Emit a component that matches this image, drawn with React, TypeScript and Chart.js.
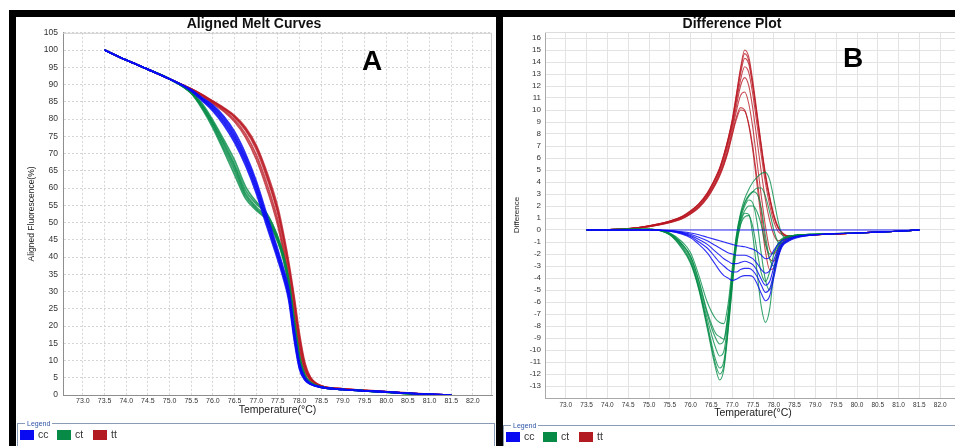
import React, { useEffect, useRef } from "react";
import { Chart, registerables } from "chart.js";

Chart.register(...registerables);

const FONT = "'Liberation Sans', Arial, Helvetica, sans-serif";

// ---------- Panel A : aligned melt curves ----------
const tempsA = [73.5, 74.0, 74.5, 75.0, 75.5, 75.75, 76.0, 76.25, 76.5, 76.75, 77.0, 77.25, 77.5, 77.625, 77.75, 77.875, 78.0, 78.125, 78.25, 78.5, 79.0, 79.5, 80.0, 80.5, 81.0, 81.5];

const meltCC = [
  [100, 97.1, 94.4, 91.6, 88.3, 85.8, 83.2, 79.6, 74.8, 68.3, 60.2, 50.3, 40.5, 35.3, 29.0, 17.5, 8.2, 4.6, 3.2, 2.2, 1.6, 1.2, 0.9, 0.5, 0.2, 0],
  [100, 97.1, 94.4, 91.6, 88.1, 85.3, 82.3, 78.3, 73.2, 66.6, 58.5, 48.6, 39.0, 33.8, 27.4, 16.0, 7.4, 4.3, 3.1, 2.2, 1.6, 1.2, 0.9, 0.5, 0.2, 0],
  [100, 97.1, 94.4, 91.6, 88.5, 86.2, 84.0, 80.8, 76.3, 70.0, 62.0, 52.0, 42.0, 36.8, 30.6, 19.2, 9.2, 5.0, 3.3, 2.3, 1.6, 1.2, 0.9, 0.5, 0.2, 0],
  [100, 97.1, 94.4, 91.6, 88.2, 85.6, 82.8, 79.0, 74.0, 67.5, 59.4, 49.5, 39.8, 34.6, 28.3, 16.8, 7.8, 4.4, 3.2, 2.2, 1.6, 1.2, 0.9, 0.5, 0.2, 0],
  [100, 97.1, 94.4, 91.6, 88.4, 86.0, 83.6, 80.2, 75.5, 69.1, 61.1, 51.1, 41.2, 36.0, 29.8, 18.3, 8.7, 4.8, 3.3, 2.3, 1.6, 1.2, 0.9, 0.5, 0.2, 0],
];

const meltCT = [
  [100, 97.1, 94.4, 91.6, 87.6, 83.8, 78.6, 72.5, 66.0, 58.5, 54.5, 51.5, 45.0, 40.0, 32.5, 21.0, 10.5, 5.5, 3.6, 2.3, 1.6, 1.2, 0.8, 0.4, 0.1, 0],
  [100, 97.1, 94.4, 91.6, 87.4, 83.0, 77.4, 70.8, 63.8, 57.0, 53.5, 50.6, 44.2, 39.2, 31.5, 20.0, 10.0, 5.3, 3.5, 2.3, 1.6, 1.2, 0.8, 0.4, 0.1, 0],
  [100, 97.1, 94.4, 91.6, 87.9, 84.5, 79.6, 74.0, 68.0, 60.5, 56.0, 52.5, 45.8, 40.8, 33.5, 22.0, 11.2, 5.8, 3.7, 2.4, 1.6, 1.2, 0.8, 0.4, 0.1, 0],
  [100, 97.1, 94.4, 91.6, 87.8, 84.0, 79.0, 73.2, 66.8, 59.4, 55.4, 52.3, 45.5, 40.5, 33.0, 21.5, 10.8, 5.6, 3.6, 2.3, 1.6, 1.2, 0.8, 0.4, 0.1, 0],
  [100, 97.1, 94.4, 91.6, 87.5, 83.3, 78.0, 71.6, 65.0, 57.8, 54.0, 51.0, 44.6, 39.6, 32.0, 20.5, 10.2, 5.4, 3.5, 2.3, 1.6, 1.2, 0.8, 0.4, 0.1, 0],
];

const meltTT = [
  [100, 97.1, 94.4, 91.6, 88.7, 87.0, 85.0, 83.0, 80.5, 76.8, 71.2, 62.8, 52.5, 45.0, 36.5, 26.5, 15.5, 8.0, 4.8, 2.6, 1.8, 1.3, 0.9, 0.5, 0.2, 0],
  [100, 97.1, 94.4, 91.6, 88.6, 86.8, 84.7, 82.6, 79.8, 75.7, 69.6, 61.0, 50.5, 43.0, 34.5, 24.5, 14.0, 7.2, 4.5, 2.5, 1.7, 1.3, 0.9, 0.5, 0.2, 0],
  [100, 97.1, 94.4, 91.6, 88.8, 87.1, 85.2, 83.3, 81.0, 77.6, 72.4, 64.4, 54.3, 47.0, 38.5, 28.5, 17.5, 9.2, 5.2, 2.7, 1.8, 1.4, 1.0, 0.6, 0.2, 0],
  [100, 97.1, 94.4, 91.6, 88.5, 86.6, 84.4, 82.2, 79.2, 74.8, 68.4, 59.6, 49.0, 41.5, 33.0, 23.0, 12.8, 6.8, 4.3, 2.5, 1.7, 1.3, 0.9, 0.5, 0.2, 0],
  [100, 97.1, 94.4, 91.6, 88.7, 87.0, 85.1, 83.1, 80.7, 77.2, 71.9, 63.6, 53.2, 46.0, 37.5, 27.5, 16.5, 8.6, 5.0, 2.6, 1.8, 1.3, 0.9, 0.5, 0.2, 0],
];

// ---------- Panel B : difference plot ----------
const tempsB = [73.5, 74.5, 75.0, 75.5, 75.8, 76.0, 76.2, 76.4, 76.6, 76.7, 76.8, 76.9, 77.0, 77.1, 77.2, 77.3, 77.4, 77.5, 77.6, 77.7, 77.8, 77.9, 78.0, 78.1, 78.2, 78.35, 78.5, 79.0, 80.0, 81.0, 81.5];

const diffCC = [
  [0, 0, 0, 0, 0, 0, 0, 0, 0, 0, 0, 0, 0, 0, 0, 0, 0, 0, 0, 0, 0, 0, 0, 0, 0, 0, 0, 0, 0, 0, 0],
  [0, 0, 0, -0.05, -0.15, -0.25, -0.4, -0.6, -0.8, -0.9, -1.0, -1.1, -1.2, -1.3, -1.35, -1.4, -1.5, -1.6, -1.8, -2.1, -2.4, -2.3, -1.7, -1.2, -0.9, -0.7, -0.55, -0.4, -0.25, -0.1, 0],
  [0, 0, 0, -0.05, -0.2, -0.35, -0.6, -0.9, -1.3, -1.5, -1.7, -1.9, -2.0, -2.1, -2.1, -2.1, -2.2, -2.4, -2.8, -3.3, -3.6, -3.4, -2.5, -1.6, -1.1, -0.8, -0.6, -0.4, -0.25, -0.1, 0],
  [0, 0, 0, -0.05, -0.25, -0.45, -0.8, -1.2, -1.8, -2.1, -2.4, -2.6, -2.8, -2.8, -2.7, -2.6, -2.7, -2.9, -3.4, -4.1, -4.6, -4.3, -3.1, -1.9, -1.2, -0.85, -0.6, -0.4, -0.25, -0.1, 0],
  [0, 0, 0, -0.1, -0.3, -0.55, -1.0, -1.5, -2.3, -2.7, -3.0, -3.3, -3.5, -3.5, -3.3, -3.2, -3.2, -3.4, -3.9, -4.6, -5.2, -4.9, -3.6, -2.2, -1.3, -0.9, -0.65, -0.4, -0.25, -0.1, 0],
  [0, 0, 0, -0.1, -0.35, -0.65, -1.2, -1.9, -2.9, -3.4, -3.8, -4.0, -4.2, -4.1, -3.9, -3.8, -3.8, -3.9, -4.5, -5.3, -5.9, -5.5, -4.0, -2.4, -1.4, -0.95, -0.7, -0.4, -0.25, -0.1, 0],
];

const diffCT = [
  [0, 0.05, 0.05, -0.4, -1.6, -2.8, -5.0, -8.2, -11.5, -12.5, -11.6, -8.5, -4.8, -1.4, 0.5, 1.4, 1.3, -0.6, -3.6, -6.4, -7.7, -6.6, -3.6, -1.5, -0.8, -0.5, -0.45, -0.35, -0.25, -0.1, 0],
  [0, 0.05, 0.05, -0.35, -1.4, -2.6, -4.8, -7.8, -10.8, -11.5, -10.9, -8.0, -4.3, -1.0, 0.9, 2.0, 2.5, 2.2, 0.6, -2.0, -4.2, -5.0, -3.8, -1.8, -0.9, -0.55, -0.45, -0.35, -0.25, -0.1, 0],
  [0, 0.05, 0.05, -0.35, -1.3, -2.4, -4.6, -7.4, -9.8, -10.5, -10.1, -7.5, -4.0, -0.8, 1.2, 2.3, 2.9, 3.2, 3.0, 1.8, -0.5, -2.4, -3.0, -2.2, -1.1, -0.6, -0.45, -0.35, -0.25, -0.1, 0],
  [0, 0.05, 0.05, -0.3, -1.2, -2.2, -4.3, -7.0, -9.0, -9.5, -9.2, -6.9, -3.6, -0.5, 1.4, 2.6, 3.4, 4.0, 4.4, 4.7, 4.8, 4.2, 2.6, 0.8, -0.4, -0.7, -0.5, -0.35, -0.25, -0.1, 0],
  [0, 0.05, 0.05, -0.3, -1.2, -2.2, -4.2, -6.8, -8.6, -8.9, -9.1, -7.2, -3.8, -0.9, 0.8, 1.6, 2.0, 2.0, 1.5, 0.4, -1.2, -2.0, -1.9, -1.3, -0.8, -0.55, -0.45, -0.35, -0.25, -0.1, 0],
  [0, 0.05, 0.05, -0.25, -1.0, -1.9, -3.8, -6.0, -7.4, -7.7, -7.8, -6.2, -3.2, -0.5, 1.2, 2.2, 2.8, 3.2, 3.5, 3.5, 2.8, 1.5, 0.0, -1.0, -1.2, -0.8, -0.5, -0.35, -0.25, -0.1, 0],
  [0, 0.05, 0.05, -0.4, -1.5, -2.7, -4.9, -8.0, -11.2, -12.0, -11.3, -8.3, -4.6, -1.3, 0.4, 1.1, 1.2, 0.2, -1.8, -3.6, -4.3, -3.5, -2.0, -1.1, -0.7, -0.5, -0.45, -0.35, -0.25, -0.1, 0],
];

const diffTT = [
  [0, 0.12, 0.35, 0.75, 1.15, 1.6, 2.2, 3.1, 4.4, 5.2, 6.3, 7.6, 9.2, 11.3, 13.5, 15.0, 14.4, 12.3, 9.7, 7.1, 4.7, 2.8, 1.3, 0.3, -0.2, -0.5, -0.5, -0.4, -0.25, -0.1, 0],
  [0, 0.12, 0.35, 0.74, 1.13, 1.58, 2.18, 3.05, 4.35, 5.15, 6.25, 7.55, 9.1, 11.2, 13.3, 14.7, 14.1, 12.0, 9.5, 6.9, 4.5, 2.7, 1.2, 0.2, -0.25, -0.5, -0.5, -0.4, -0.25, -0.1, 0],
  [0, 0.12, 0.35, 0.72, 1.1, 1.55, 2.15, 3.0, 4.3, 5.1, 6.2, 7.5, 9.0, 11.0, 13.0, 14.3, 13.8, 11.8, 9.3, 6.8, 4.4, 2.6, 1.1, 0.2, -0.3, -0.5, -0.5, -0.4, -0.25, -0.1, 0],
  [0, 0.1, 0.32, 0.7, 1.08, 1.5, 2.1, 2.95, 4.2, 5.0, 6.0, 7.3, 8.8, 10.7, 12.5, 13.6, 13.1, 11.2, 8.7, 6.2, 3.9, 2.1, 0.7, -0.1, -0.4, -0.6, -0.5, -0.4, -0.25, -0.1, 0],
  [0, 0.1, 0.3, 0.68, 1.05, 1.45, 2.0, 2.85, 4.05, 4.85, 5.8, 7.1, 8.6, 10.3, 12.0, 12.7, 12.0, 10.0, 7.4, 4.8, 2.5, 0.8, -0.4, -0.9, -0.8, -0.6, -0.5, -0.4, -0.25, -0.1, 0],
  [0, 0.1, 0.3, 0.65, 1.0, 1.4, 1.95, 2.8, 3.95, 4.7, 5.6, 6.8, 8.3, 9.9, 11.2, 11.5, 10.5, 8.4, 5.6, 2.8, 0.3, -1.6, -2.0, -1.5, -0.9, -0.6, -0.5, -0.4, -0.25, -0.1, 0],
  [0, 0.1, 0.28, 0.62, 0.95, 1.35, 1.9, 2.7, 3.85, 4.6, 5.5, 6.6, 8.0, 9.4, 10.2, 10.0, 8.7, 6.5, 3.7, 0.8, -1.8, -3.3, -3.2, -2.2, -1.2, -0.7, -0.5, -0.4, -0.25, -0.1, 0],
  [0, 0.1, 0.28, 0.6, 0.93, 1.32, 1.85, 2.65, 3.8, 4.5, 5.4, 6.5, 7.9, 9.2, 10.0, 9.9, 8.8, 6.8, 4.2, 1.5, -1.0, -2.4, -2.6, -1.9, -1.1, -0.7, -0.5, -0.4, -0.25, -0.1, 0],
];

// ---------- ticks & legend ----------
const xTickValues = [73.0, 73.5, 74.0, 74.5, 75.0, 75.5, 76.0, 76.5, 77.0, 77.5, 78.0, 78.5, 79.0, 79.5, 80.0, 80.5, 81.0, 81.5, 82.0];
const yTicksA = [0, 5, 10, 15, 20, 25, 30, 35, 40, 45, 50, 55, 60, 65, 70, 75, 80, 85, 90, 95, 100, 105];
const yTicksB = [-13, -12, -11, -10, -9, -8, -7, -6, -5, -4, -3, -2, -1, 0, 1, 2, 3, 4, 5, 6, 7, 8, 9, 10, 11, 12, 13, 14, 15, 16];
const groupNames = ["cc", "ct", "tt"];

const LINE_COLORS: Record<string, string> = {
  cc: "rgba(10,10,245,0.85)",
  ct: "rgba(0,138,68,0.78)",
  tt: "rgba(186,24,34,0.78)",
};
const SWATCH_COLORS: Record<string, string> = {
  cc: "#0a0af2",
  ct: "#078a45",
  tt: "#b31b22",
};

function buildDatasets(temps: number[], groups: [string, number[][]][], width: number) {
  const out: any[] = [];
  for (const [name, reps] of groups) {
    for (const rep of reps) {
      out.push({
        label: name,
        data: temps.map((t, i) => ({ x: t, y: rep[i] })),
        borderColor: LINE_COLORS[name],
        borderWidth: width,
        pointRadius: 0,
        fill: false,
        cubicInterpolationMode: "monotone",
      });
    }
  }
  return out;
}

const framePlugin = {
  id: "frame",
  beforeDatasetsDraw(chart: any, _args: any, opts: any) {
    const { ctx, chartArea } = chart;
    const { left, top, right, bottom } = chartArea;
    ctx.save();
    ctx.strokeStyle = opts.color || "#ccc";
    ctx.lineWidth = 1;
    ctx.beginPath();
    ctx.moveTo(left, top + 0.5);
    ctx.lineTo(right - 0.5, top + 0.5);
    ctx.lineTo(right - 0.5, bottom);
    ctx.stroke();
    ctx.restore();
  },
};

function configA(): any {
  return {
    type: "line",
    data: {
      datasets: buildDatasets(tempsA, [["cc", meltCC], ["ct", meltCT], ["tt", meltTT]], 1.7),
    },
    options: {
      animation: false,
      responsive: false,
      maintainAspectRatio: false,
      layout: { padding: { left: 0, right: 4, top: 0, bottom: 0 } },
      plugins: {
        legend: { display: false },
        tooltip: { enabled: false },
        title: {
          display: true,
          text: "Aligned Melt Curves",
          color: "#111",
          font: { family: FONT, size: 14, weight: "bold", lineHeight: 1.2 },
          padding: { top: 0, bottom: 0 },
        },
        frame: { color: "#cfcfcf" },
      },
      scales: {
        x: {
          type: "linear",
          min: 72.54,
          max: 82.44,
          afterBuildTicks: (s: any) => {
            s.ticks = xTickValues.map((v) => ({ value: v }));
          },
          afterFit: (s: any) => {
            s.height = 28;
          },
          ticks: {
            autoSkip: false,
            maxRotation: 0,
            padding: 2,
            color: "#333",
            font: { family: FONT, size: 7 },
            callback: (v: any) => Number(v).toFixed(1),
          },
          grid: { color: "#d4d4d4", drawTicks: false, lineWidth: 1 },
          border: { display: true, color: "#8e8e8e", dash: [2, 2] },
          title: {
            display: true,
            text: "Temperature(°C)",
            color: "#222",
            font: { family: FONT, size: 10.5 },
            padding: { top: 0, bottom: 6.5 },
          },
        },
        y: {
          type: "linear",
          min: 0,
          max: 105,
          afterBuildTicks: (s: any) => {
            s.ticks = yTicksA.map((v) => ({ value: v }));
          },
          afterFit: (s: any) => {
            s.width = 47;
          },
          ticks: {
            autoSkip: false,
            padding: 5,
            color: "#333",
            font: { family: FONT, size: 8.5 },
          },
          grid: { color: "#d4d4d4", drawTicks: false, lineWidth: 1 },
          border: { display: true, color: "#8e8e8e", dash: [2, 2] },
          title: {
            display: true,
            text: "Aligned Fluorescence(%)",
            color: "#222",
            font: { family: FONT, size: 8.5 },
            padding: { top: 11, bottom: 0 },
          },
        },
      },
    },
    plugins: [framePlugin],
  };
}

function configB(): any {
  return {
    type: "line",
    data: {
      datasets: buildDatasets(tempsB, [["cc", diffCC], ["ct", diffCT], ["tt", diffTT]], 1.1),
    },
    options: {
      animation: false,
      responsive: false,
      maintainAspectRatio: false,
      layout: { padding: { left: 0, right: 5, top: 0, bottom: 0 } },
      plugins: {
        legend: { display: false },
        tooltip: { enabled: false },
        title: {
          display: true,
          text: "Difference Plot",
          color: "#111",
          font: { family: FONT, size: 14, weight: "bold", lineHeight: 1.1 },
          padding: { top: 0, bottom: 0.6 },
        },
        frame: { color: "#dcdcdc" },
      },
      scales: {
        x: {
          type: "linear",
          min: 72.5,
          max: 82.5,
          afterBuildTicks: (s: any) => {
            s.ticks = xTickValues.map((v) => ({ value: v }));
          },
          afterFit: (s: any) => {
            s.height = 27;
          },
          ticks: {
            autoSkip: false,
            maxRotation: 0,
            padding: 3,
            color: "#333",
            font: { family: FONT, size: 6.5 },
            callback: (v: any) => Number(v).toFixed(1),
          },
          grid: { color: "#e3e3e3", drawTicks: false, lineWidth: 1 },
          border: { display: true, color: "#a8a8a8" },
          title: {
            display: true,
            text: "Temperature(°C)",
            color: "#222",
            font: { family: FONT, size: 10.5 },
            padding: { top: 0, bottom: 5.7 },
          },
        },
        y: {
          type: "linear",
          min: -14,
          max: 16.5,
          afterBuildTicks: (s: any) => {
            s.ticks = yTicksB.map((v) => ({ value: v }));
          },
          afterFit: (s: any) => {
            s.width = 42;
          },
          ticks: {
            autoSkip: false,
            padding: 4,
            color: "#333",
            font: { family: FONT, size: 8 },
          },
          grid: { color: "#e3e3e3", drawTicks: false, lineWidth: 1 },
          border: { display: true, color: "#a8a8a8" },
          title: {
            display: true,
            text: "Difference",
            color: "#222",
            font: { family: FONT, size: 8 },
            padding: { top: 9, bottom: 0 },
          },
        },
      },
    },
    plugins: [framePlugin],
  };
}

function ChartCanvas({ make, left, top, width, height }: any) {
  const ref = useRef<HTMLCanvasElement>(null);
  useEffect(() => {
    const chart = new Chart(ref.current as HTMLCanvasElement, make());
    return () => chart.destroy();
  }, []);
  return (
    <canvas
      ref={ref}
      width={width}
      height={height}
      style={{ position: "absolute", left, top, width, height }}
    />
  );
}

function LegendBox({ left, top, width }: any) {
  const swatchX = [2, 39, 75];
  const textX = [20, 57, 93];
  return (
    <div
      style={{
        position: "absolute",
        left,
        top,
        width,
        height: 40,
        border: "1px solid #8a9bb5",
        boxSizing: "border-box",
        fontFamily: FONT,
      }}
    >
      <span
        style={{
          position: "absolute",
          left: 7,
          top: -5,
          fontSize: 7,
          lineHeight: "9px",
          color: "#2d55a8",
          background: "#fff",
          padding: "0 2px",
        }}
      >
        Legend
      </span>
      {groupNames.map((g, i) => (
        <React.Fragment key={g}>
          <div
            style={{
              position: "absolute",
              left: swatchX[i],
              top: 5.5,
              width: 14,
              height: 10,
              background: SWATCH_COLORS[g],
            }}
          />
          <span
            style={{
              position: "absolute",
              left: textX[i],
              top: 4,
              fontSize: 10.5,
              lineHeight: "13px",
              color: "#333",
            }}
          >
            {g}
          </span>
        </React.Fragment>
      ))}
    </div>
  );
}

export default function App() {
  const bigLetter: React.CSSProperties = {
    position: "absolute",
    fontFamily: FONT,
    fontWeight: "bold",
    fontSize: 28,
    lineHeight: "28px",
    color: "#000",
  };
  return (
    <div
      style={{
        position: "fixed",
        left: 0,
        top: 0,
        width: 955,
        height: 446,
        overflow: "hidden",
        background: "#fff",
      }}
    >
      {/* black frames */}
      <div style={{ position: "absolute", left: 9, top: 10, width: 946, height: 7, background: "#000" }} />
      <div style={{ position: "absolute", left: 9, top: 10, width: 7, height: 436, background: "#000" }} />
      <div style={{ position: "absolute", left: 496, top: 10, width: 7, height: 436, background: "#000" }} />

      <ChartCanvas make={configA} left={16} top={16} width={480} height={407} />
      <ChartCanvas make={configB} left={503} top={16} width={463} height={409} />

      <div style={{ ...bigLetter, left: 362, top: 47 }}>A</div>
      <div style={{ ...bigLetter, left: 843, top: 44 }}>B</div>

      <LegendBox left={17} top={423} width={478} />
      <LegendBox left={503} top={425} width={470} />
    </div>
  );
}
